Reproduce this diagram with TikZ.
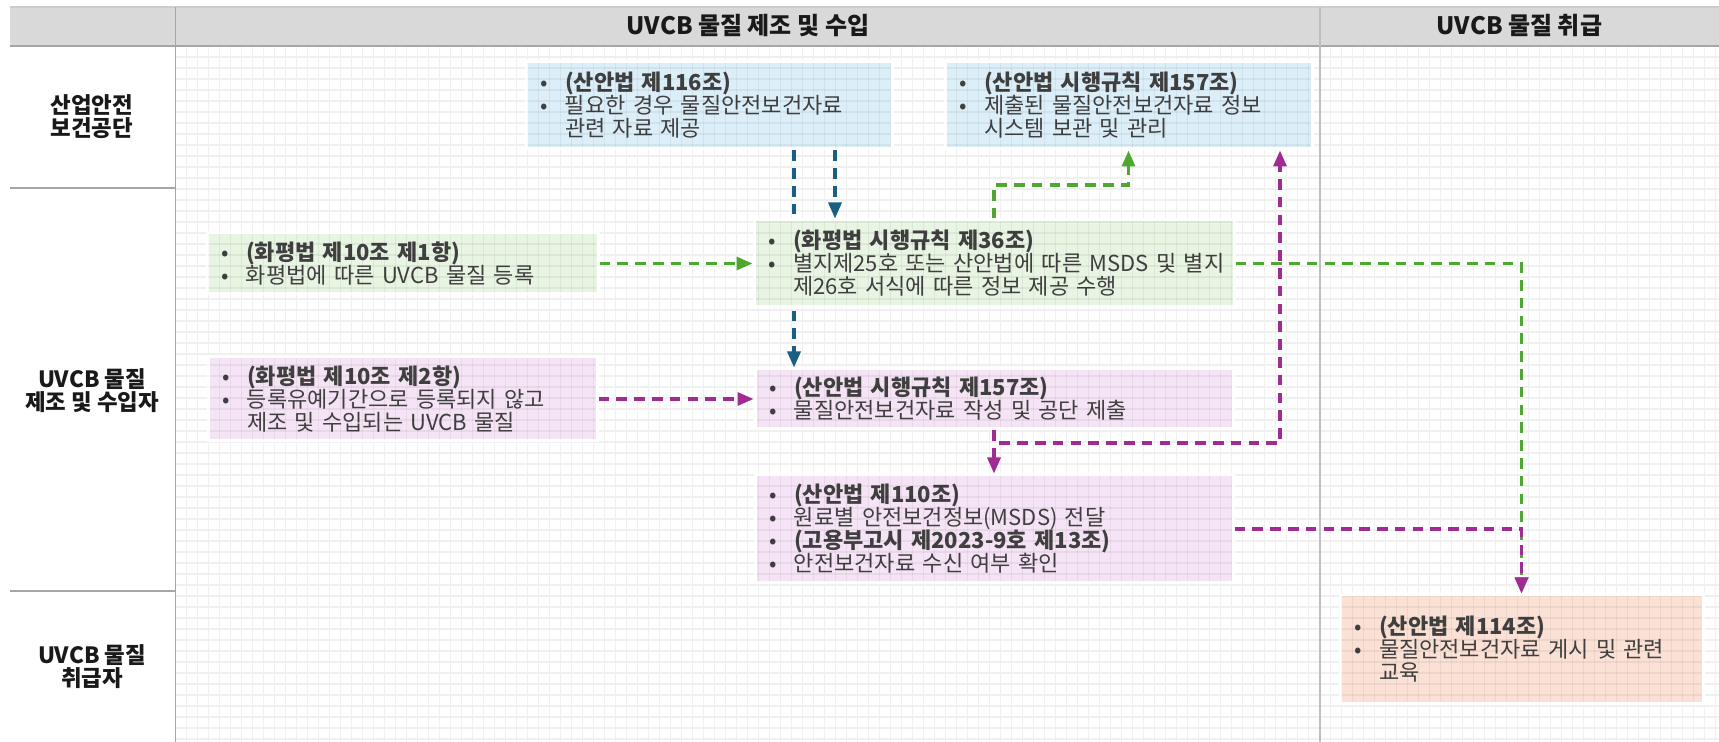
\documentclass[tikz,border=0pt]{standalone}
\usepackage{fontspec}
\setmainfont{Noto Sans CJK KR}
\usetikzlibrary{arrows.meta,calc}
\definecolor{txt}{HTML}{404040}
\definecolor{bluef}{HTML}{DCEFF8}
\definecolor{greenf}{HTML}{E8F5E3}
\definecolor{pinkf}{HTML}{F5E4F5}
\definecolor{salmonf}{HTML}{FBE1D5}
\definecolor{bluea}{HTML}{1B5F82}
\definecolor{greena}{HTML}{4EA72E}
\definecolor{pinka}{HTML}{A02B93}
\definecolor{hdrf}{HTML}{D9D9D9}
\definecolor{rulec}{HTML}{A6A6A6}
\definecolor{gridc}{HTML}{F0F0F0}
\pgfdeclarelayer{bg}
\pgfdeclarelayer{behind}
\pgfsetlayers{bg,behind,main}
\newcommand\bl{\makebox[12.5pt][l]{•}}
\newcommand\ind{\hspace*{12.5pt}}
\newcommand\gridlines[1]{%
  \foreach \i in {0,...,140}{\draw[#1] ({175.5+11*\i},46) -- ({175.5+11*\i},742);}%
  \foreach \j in {0,...,63}{\draw[#1] (175.5,{46+11*\j}) -- (1719,{46+11*\j});}%
}
\tikzset{
  bx/.style={rectangle, draw=white, line width=1.5pt, inner xsep=7pt, inner ysep=0pt,
    align=left, text=txt, font=\fontsize{11pt}{11.5pt}\selectfont},
  lbl/.style={align=center, text=black!90, font=\bfseries\fontsize{11.2pt}{11.5pt}\selectfont},
  hdr/.style={text=black!90, font=\bfseries\fontsize{12pt}{13pt}\selectfont},
  gridln/.style={draw=gridc, line width=0.55pt},
  gridover/.style={draw=black, draw opacity=0.05, line width=0.55pt},
  con/.style={line width=1.6pt, dash pattern=on 5.3pt off 3.6pt, -{Triangle[length=8pt,width=6.5pt]}},
  bcon/.style={con, draw=bluea},
  gcon/.style={con, draw=greena},
  pcon/.style={con, draw=pinka},
}
\begin{document}
\begin{tikzpicture}[x=0.5pt, y=-0.5pt]
\useasboundingbox (0,0) rectangle (1719,742);
\begin{pgfonlayer}{bg}
  \fill[white] (0,0) rectangle (1719,742);
  \gridlines{gridln}
  \fill[hdrf] (10,7) rectangle (1719,46);
  \draw[draw=black!20, line width=0.6pt] (10,7) -- (1719,7);
  \draw[draw=rulec, line width=1.2pt] (10,46) -- (1719,46);
  \draw[draw=rulec, line width=0.8pt] (175.5,7) -- (175.5,742);
  \draw[draw=black!25, line width=0.6pt] (1320,7) -- (1320,742);
  \draw[draw=rulec, line width=1pt] (10,188) -- (175.5,188);
  \draw[draw=rulec, line width=1pt] (10,591) -- (175.5,591);
\end{pgfonlayer}

% headers and lane labels
\node[hdr] (h1) at (748,26) {UVCB 물질 제조 및 수입};
\node[hdr] (h2) at (1519.5,26) {UVCB 물질 취급};
\node[lbl] (l1) at (92,117) {산업안전\\보건공단};
\node[lbl] (l2) at (92,391) {UVCB 물질\\제조 및 수입자};
\node[lbl] (l3) at (92,666.5) {UVCB 물질\\취급자};

% boxes
\node[bx, fill=bluef, minimum width=183pt, text width=169pt, minimum height=43.5pt] (A) at (709,105.5)
  {\bl\textbf{(산안법 제116조)}\\\bl 필요한 경우 물질안전보건자료\\\ind 관련 자료 제공};
\node[bx, fill=bluef, minimum width=183.5pt, text width=169.5pt, minimum height=43.5pt] (B) at (1128.5,105.5)
  {\bl\textbf{(산안법 시행규칙 제157조)}\\\bl 제출된 물질안전보건자료 정보\\\ind 시스템 보관 및 관리};
\node[bx, fill=greenf, minimum width=195.5pt, text width=181.5pt, minimum height=30.5pt] (C) at (402.5,263.5)
  {\bl\textbf{(화평법 제10조 제1항)}\\\bl 화평법에 따른 UVCB 물질 등록};
\node[bx, fill=greenf, minimum width=240pt, text width=226pt, minimum height=43.5pt] (D) at (994,263.5)
  {\bl\textbf{(화평법 시행규칙 제36조)}\\\bl\mbox{별지제25호 또는 산안법에 따른 MSDS 및 별지}\\\ind 제26호 서식에 따른 정보 제공 수행};
\node[bx, fill=pinkf, minimum width=194.5pt, text width=180.5pt, minimum height=42pt] (E) at (402.5,399)
  {\bl\textbf{(화평법 제10조 제2항)}\\\bl 등록유예기간으로 등록되지 않고\\\ind 제조 및 수입되는 UVCB 물질};
\node[bx, fill=pinkf, minimum width=239pt, text width=225pt, minimum height=30pt] (F) at (994,399)
  {\bl\textbf{(산안법 시행규칙 제157조)}\\\bl 물질안전보건자료 작성 및 공단 제출};
\node[bx, fill=pinkf, minimum width=239pt, text width=225pt, minimum height=54pt] (G) at (994,529)
  {\bl\textbf{(산안법 제110조)}\\\bl 원료별 안전보건정보(MSDS) 전달\\\bl\textbf{(고용부고시 제2023-9호 제13조)}\\\bl 안전보건자료 수신 여부 확인};
\node[bx, fill=salmonf, minimum width=181.5pt, text width=167.5pt, minimum height=54pt] (H) at (1521.5,649)
  {\bl\textbf{(산안법 제114조)}\\\bl 물질안전보건자료 게시 및 관련\\\ind 교육};

% faint grid seen through the boxes
\foreach \n in {A,B,C,D,E,F,G,H}{%
  \begin{scope}
    \clip ([shift={(1.5pt,-1.5pt)}]\n.north west) rectangle ([shift={(-1.5pt,1.5pt)}]\n.south east);
    \gridlines{gridover}
  \end{scope}
}

% helper coordinates
\coordinate (xaf) at (794,0);
\coordinate (xad) at (835,0);
\coordinate (ydb) at (0,185);
\coordinate (yfb) at (0,443);
\coordinate (xfb) at (1280,0);

% connectors
\begin{pgfonlayer}{behind}
  \draw[bcon] (A.south -| xaf) -- (F.north -| xaf);
\end{pgfonlayer}
\draw[bcon] (A.south -| xad) -- (D.north -| xad);
\draw[gcon] (C.east) -- (D.west);
\draw[pcon] (E.east) -- (F.west);
\draw[gcon] (D.north) -- (D.north |- ydb) -| (B.south);
\draw[gcon] (D.east) -| (H.north);
\draw[pcon] (F.south) -- (F.south |- yfb) -| (xfb |- B.south);
\draw[pcon] (F.south) -- (G.north);
\draw[pcon] (G.east) -| (H.north);
\end{tikzpicture}
\end{document}
